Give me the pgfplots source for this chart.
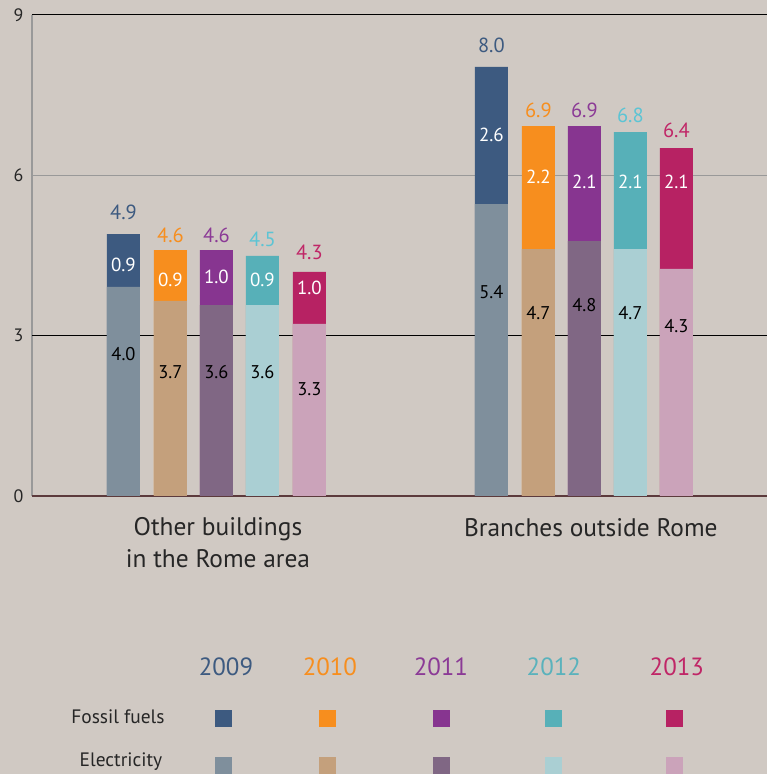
\documentclass[border=0pt]{standalone}
\usepackage{fontspec}
\setmainfont{PT Sans}
\usepackage{pgfplots}
\pgfplotsset{compat=1.18}
\definecolor{bg}{RGB}{208,201,195}
\definecolor{fA}{RGB}{61,90,128}
\definecolor{eA}{RGB}{127,143,156}
\definecolor{fB}{RGB}{247,142,30}
\definecolor{eB}{RGB}{196,160,124}
\definecolor{fC}{RGB}{135,53,144}
\definecolor{eC}{RGB}{128,103,132}
\definecolor{fD}{RGB}{87,176,184}
\definecolor{eD}{RGB}{170,207,211}
\definecolor{fE}{RGB}{183,34,99}
\definecolor{eE}{RGB}{203,163,186}
\definecolor{tA}{RGB}{61,90,128}
\definecolor{tB}{RGB}{247,142,30}
\definecolor{tC}{RGB}{139,58,150}
\definecolor{tD}{RGB}{92,196,212}
\definecolor{tE}{RGB}{192,38,103}
\definecolor{yD}{RGB}{90,178,188}
\definecolor{zero}{RGB}{92,58,60}
\begin{document}
\begin{tikzpicture}[x=1bp,y=1bp]
\fill[bg] (0,0) rectangle (767,774);
\begin{axis}[at={(32bp,278bp)}, anchor=south west, scale only axis,
  width=735bp, height=481bp, xmin=32, xmax=767, ymin=0, ymax=9,
  axis x line=none, axis y line*=left,
  y axis line style={draw=black!40, line width=1.3bp, -},
  ytick={0,3,6,9}, major tick length=0pt,
  yticklabel style={font=\fontsize{18}{20}\selectfont, text=black!85, xshift=-5bp},
  /pgf/number format/assume math mode=true, clip=false,
  bar width=33bp]
\draw[black, line width=1bp] (axis cs:32,9) -- (axis cs:767,9);
\draw[black!40, line width=1.3bp] (axis cs:32,6) -- (axis cs:767,6);
\draw[black, line width=0.8bp] (axis cs:32,3) -- (axis cs:767,3);
\draw[zero, line width=1.6bp] (axis cs:32,0) -- (axis cs:767,0);
% totals (fossil colour), then electricity on top
\addplot[ybar, bar shift=0pt, fill=fA, draw=none] coordinates {(123.5,4.90) (491.5,8.03)};
\addplot[ybar, bar shift=0pt, fill=eA, draw=none] coordinates {(123.5,3.91) (491.5,5.46)};
\addplot[ybar, bar shift=0pt, fill=fB, draw=none] coordinates {(170.5,4.60) (538.5,6.92)};
\addplot[ybar, bar shift=0pt, fill=eB, draw=none] coordinates {(170.5,3.65) (538.5,4.62)};
\addplot[ybar, bar shift=0pt, fill=fC, draw=none] coordinates {(216.5,4.60) (584.5,6.92)};
\addplot[ybar, bar shift=0pt, fill=eC, draw=none] coordinates {(216.5,3.57) (584.5,4.77)};
\addplot[ybar, bar shift=0pt, fill=fD, draw=none] coordinates {(262.5,4.49) (630.5,6.81)};
\addplot[ybar, bar shift=0pt, fill=eD, draw=none] coordinates {(262.5,3.57) (630.5,4.62)};
\addplot[ybar, bar shift=0pt, fill=fE, draw=none] coordinates {(309.5,4.19) (676.5,6.51)};
\addplot[ybar, bar shift=0pt, fill=eE, draw=none] coordinates {(309.5,3.22) (676.5,4.25)};
% labels
\pgfplotsset{lbl/.style 2 args={draw=none, mark=none, nodes near coords, point meta=explicit symbolic,
  nodes near coords style={anchor=center, inner sep=0pt, font=\fontsize{#2}{24}\selectfont, text=#1}}}
\addplot[lbl={tA}{20.5}] coordinates {(123.5,5.30) [4.9] (491.5,8.44) [8.0]};
\addplot[lbl={tB}{20.5}] coordinates {(170.5,4.88) [4.6] (538.5,7.22) [6.9]};
\addplot[lbl={tC}{20.5}] coordinates {(216.5,4.88) [4.6] (584.5,7.22) [6.9]};
\addplot[lbl={tD}{20.5}] coordinates {(262.5,4.81) [4.5] (630.5,7.13) [6.8]};
\addplot[lbl={tE}{20.5}] coordinates {(309.5,4.55) [4.3] (676.5,6.85) [6.4]};
\addplot[lbl={white}{19}] coordinates {(123.5,4.32) [0.9] (170.5,4.04) [0.9] (216.5,4.10) [1.0] (262.5,4.04) [0.9] (309.5,3.89) [1.0]
  (491.5,6.76) [2.6] (538.5,5.97) [2.2] (584.5,5.88) [2.1] (630.5,5.88) [2.1] (676.5,5.88) [2.1]};
\addplot[lbl={black}{18.5}] coordinates {(123.5,2.66) [4.0] (170.5,2.32) [3.7] (216.5,2.32) [3.6] (262.5,2.32) [3.6] (309.5,2.00) [3.3]
  (491.5,3.82) [5.4] (538.5,3.42) [4.7] (584.5,3.57) [4.8] (630.5,3.42) [4.7] (676.5,3.18) [4.3]};
\end{axis}
% category labels
\node[align=center, font=\fontsize{25.5}{32}\selectfont, text=black!85] at (218,231) {Other buildings\\in the Rome area};
\node[font=\fontsize{25.5}{32}\selectfont, text=black!85] at (591,246) {Branches outside Rome};
% legend
\begin{scope}[every node/.style={font=\fontsize{25}{30}\selectfont}]
\node[text=tA] at (226,107) {2009};
\node[text=tB] at (330,107) {2010};
\node[text=tC] at (441,107) {2011};
\node[text=yD] at (554,107) {2012};
\node[text=tE] at (677,107) {2013};
\end{scope}
\node[font=\fontsize{19.5}{22}\selectfont, text=black!85] at (118,57) {Fossil fuels};
\node[font=\fontsize{19.5}{22}\selectfont, text=black!85] at (121,12) {Electricity};
\foreach \x/\c in {223.5/fA,327.5/fB,441.5/fC,553.5/fD,674.5/fE} {\fill[\c] (\x-8.5,47) rectangle (\x+8.5,64);}
\foreach \x/\c in {223.5/eA,327.5/eB,441.5/eC,553.5/eD,674.5/eE} {\fill[\c] (\x-8.5,0) rectangle (\x+8.5,17);}
\end{tikzpicture}
\end{document}
